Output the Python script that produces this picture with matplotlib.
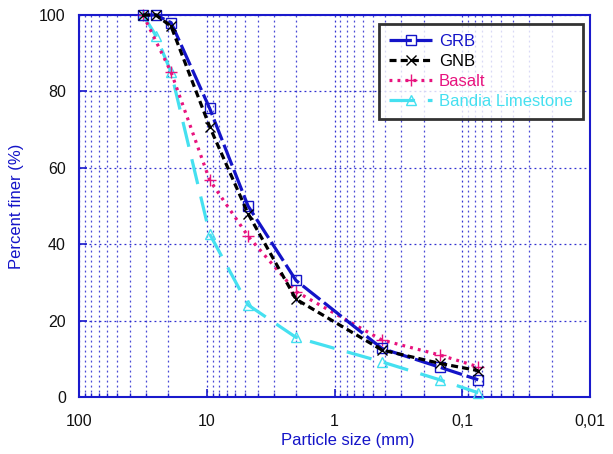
import matplotlib
matplotlib.use("Agg")
import matplotlib.pyplot as plt
from matplotlib.ticker import FixedLocator, FixedFormatter, LogLocator, NullFormatter

plt.rcParams['font.family'] = ['Liberation Sans', 'DejaVu Sans']

# Sieve sizes (mm)
sizes = [31.5, 25, 19, 9.5, 4.75, 2.0, 0.425, 0.15, 0.075]
basalt_sizes = [31.5, 19, 9.5, 4.75, 2.0, 0.425, 0.15, 0.075]

grb = [100, 100, 98, 75.6, 50, 30.5, 12.7, 7.8, 4.5]
gnb = [100, 100, 97, 70.8, 48, 25.6, 12.3, 8.8, 6.9]
basalt = [100, 85, 56.8, 42.1, 27.6, 14.9, 11.0, 7.9]
bandia = [100, 94.6, 85, 42.7, 24.1, 15.6, 9.2, 4.5, 1.1]

x_ticks = [100, 10, 1, 0.1, 0.01]
x_ticklabels = ["100", "10", "1", "0,1", "0,01"]
y_ticks = [0, 20, 40, 60, 80, 100]

blue = "#1414C8"
black = "#000000"
pink = "#E8137E"
cyan = "#45E0F0"
gridblue = "#1A1ACC"

fig = plt.figure(figsize=(6.13, 4.54), dpi=100)
ax = fig.add_axes([79/613, 57/454, 511/613, 382/454])

lw = 2.3
ax.plot(sizes, grb, color=blue, lw=lw, dashes=(7, 1.5), marker='s', ms=7,
        mfc='none', mec=blue, mew=1.0, label='GRB', clip_on=False, zorder=5)
ax.plot(sizes, gnb, color=black, lw=lw, dashes=(2.2, 1.3), marker='x', ms=7,
        mec=black, mew=1.0, label='GNB', clip_on=False, zorder=6)
ax.plot(basalt_sizes, basalt, color=pink, lw=lw, dashes=(0.9, 1.6), marker='+', ms=9,
        mec=pink, mew=1.0, label='Basalt', clip_on=False, zorder=4)
ax.plot(sizes, bandia, color=cyan, lw=lw, dashes=(8, 4), marker='^', ms=7,
        mfc='none', mec=cyan, mew=1.0, label='Bandia Limestone', clip_on=False, zorder=3)

ax.set_xscale('log')
ax.set_xlim(100, 0.01)
ax.set_ylim(0, 100)

ax.xaxis.set_major_locator(FixedLocator(x_ticks))
ax.xaxis.set_major_formatter(FixedFormatter(x_ticklabels))
ax.xaxis.set_minor_locator(LogLocator(base=10, subs=range(2, 10)))
ax.xaxis.set_minor_formatter(NullFormatter())
ax.set_yticks(y_ticks)

ax.grid(True, which='major', axis='both', color=gridblue, ls=(0, (1.5, 2.5)), lw=0.9, alpha=0.9)
ax.grid(True, which='minor', axis='x', color=gridblue, ls=(0, (1.5, 2.5)), lw=0.9, alpha=0.8)

for sp in ax.spines.values():
    sp.set_color(gridblue)
    sp.set_linewidth(1.5)

ax.tick_params(axis='both', which='major', direction='in', length=6, color=gridblue,
               labelsize=11.5, labelcolor='#111111', width=1.2)
ax.tick_params(axis='x', which='minor', direction='in', length=3, color=gridblue, width=1.0)
ax.tick_params(axis='x', which='major', pad=12)
ax.tick_params(axis='y', which='major', pad=9.5)

ax.set_xlabel("Particle size (mm)", color=blue, fontsize=12)
ax.xaxis.set_label_coords((348 - 79) / 511, (397 - 440) / 382)
ax.set_ylabel("Percent finer (%)", color=blue, fontsize=12)
ax.yaxis.set_label_coords((17 - 79) / 511, 0.5)
ax.yaxis.label.set_va('center')
ax.xaxis.label.set_va('center')

leg = ax.legend(loc='upper right', bbox_to_anchor=(0.986, 0.976), borderaxespad=0,
                fontsize=12, frameon=True, fancybox=False, handlelength=2.6,
                labelspacing=0.3, borderpad=0.6, handletextpad=0.4)
leg.get_frame().set_edgecolor('black')
leg.get_frame().set_linewidth(2)
for txt, col in zip(leg.get_texts(), [blue, black, pink, cyan]):
    txt.set_color(col)

fig.savefig("out.png", dpi=100)
